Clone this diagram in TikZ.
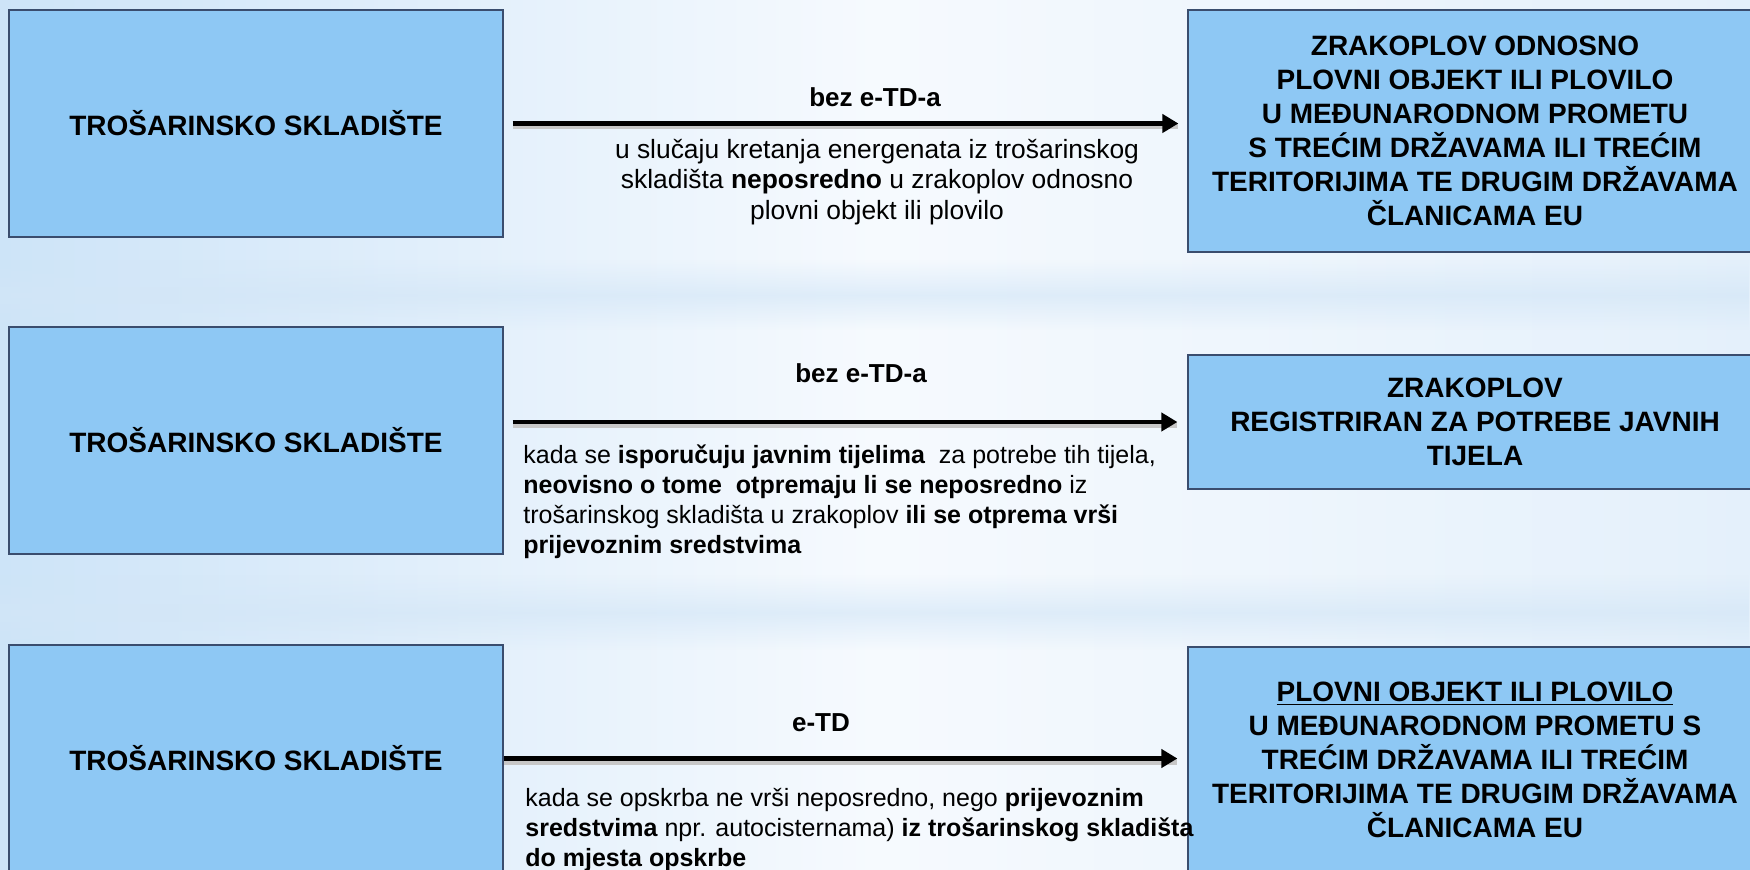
\documentclass[tikz,border=0pt]{standalone}
\usepackage{fontspec}
\setmainfont{Liberation Sans}
\usetikzlibrary{arrows.meta,fadings}
\definecolor{boxblue}{HTML}{8EC8F4}
\definecolor{boxline}{HTML}{3A4D6E}
\definecolor{bgleft}{HTML}{CDE4F8}
\definecolor{bgmid}{HTML}{F6FAFE}
\definecolor{bgright}{HTML}{E4F0FB}
\definecolor{bandblue}{HTML}{D3E6F7}
\tikzfading[name=softband,top color=transparent!100,bottom color=transparent!100,
  middle color=transparent!35]

\begin{document}
\begin{tikzpicture}[x=0.5pt,y=-0.5pt,
  srcbox/.style={draw=boxline,fill=boxblue,line width=0.6pt,inner sep=0pt,
    minimum width=247pt,minimum height=113.5pt,font=\bfseries\fontsize{14}{17}\selectfont},
  dstbox/.style={draw=boxline,fill=boxblue,line width=0.6pt,inner sep=0pt,align=center,
    minimum width=287pt,font=\bfseries\fontsize{14}{17}\selectfont},
  lbl/.style={inner sep=0pt,font=\bfseries\fontsize{13}{15}\selectfont},
  desc/.style={inner sep=0pt,font=\fontsize{12.5}{15}\selectfont},
  flowarrow/.style={line width=2.4pt,-{Triangle[length=8pt,width=9pt]},
    preaction={draw=black!22,line width=2.8pt,-,transform canvas={yshift=-1.6pt}}}]

\useasboundingbox (0,0) rectangle (1750,870);
% background
\fill[left color=bgleft,right color=bgright,middle color=bgmid] (0,0) rectangle (1750,870);
\fill[bandblue,path fading=softband] (0,260) rectangle (1750,330);
\fill[bandblue,path fading=softband] (0,575) rectangle (1750,650);

\foreach \y [count=\i] in {123.5,440.5,758.5}{ % loop over rows
  \node[srcbox] (L\i) at (256,\y) {TROŠARINSKO SKLADIŠTE};
}

\node[dstbox,minimum height=121pt] (R1) at (1475,131) {ZRAKOPLOV ODNOSNO\\PLOVNI OBJEKT ILI PLOVILO\\U MEĐUNARODNOM PROMETU\\S TREĆIM DRŽAVAMA ILI TREĆIM\\TERITORIJIMA TE DRUGIM DRŽAVAMA\\ČLANICAMA EU};
\node[dstbox,minimum height=67pt] (R2) at (1475,422) {ZRAKOPLOV\\REGISTRIRAN ZA POTREBE JAVNIH\\TIJELA};
\node[dstbox,minimum height=113pt] (R3) at (1475,760) {\underline{PLOVNI OBJEKT ILI PLOVILO}\\U MEĐUNARODNOM PROMETU S\\TREĆIM DRŽAVAMA ILI TREĆIM\\TERITORIJIMA TE DRUGIM DRŽAVAMA\\ČLANICAMA EU};

% arrows
\draw[flowarrow,shorten <=4.5pt,shorten >=4.5pt] (L1.east) -- (L1.east -| R1.west);
\draw[flowarrow,shorten <=4.5pt,shorten >=5pt] (L2.east |- R2.west) -- (R2.west);
\draw[flowarrow,shorten >=5pt] (L3.east) -- (L3.east -| R3.west);

\node[lbl] (T1) at (875,97) {bez e-TD-a};
\node[lbl] (T2) at (861,373) {bez e-TD-a};
\node[lbl] (T3) at (821,723) {e-TD};

\node[desc,align=center,font=\fontsize{13.2}{15.3}\selectfont] (D1) at (877,182)
  {u slučaju kretanja energenata iz trošarinskog\\skladišta \textbf{neposredno} u zrakoplov odnosno\\plovni objekt ili plovilo};
\node[desc,align=left,anchor=west] (D2) at (523,502)
  {kada se \textbf{isporučuju javnim tijelima}\ \ za potrebe tih tijela,\\\textbf{neovisno o tome\ \ otpremaju li se neposredno} iz\\trošarinskog skladišta u zrakoplov \textbf{ili se otprema vrši}\\\textbf{prijevoznim sredstvima}};
\node[desc,align=left,anchor=west] (D3) at (525,830)
  {kada se opskrba ne vrši neposredno, nego \textbf{prijevoznim}\\\textbf{sredstvima} npr. autocisternama) \textbf{iz trošarinskog skladišta}\\\textbf{do mjesta opskrbe}};
\end{tikzpicture}
\end{document}
